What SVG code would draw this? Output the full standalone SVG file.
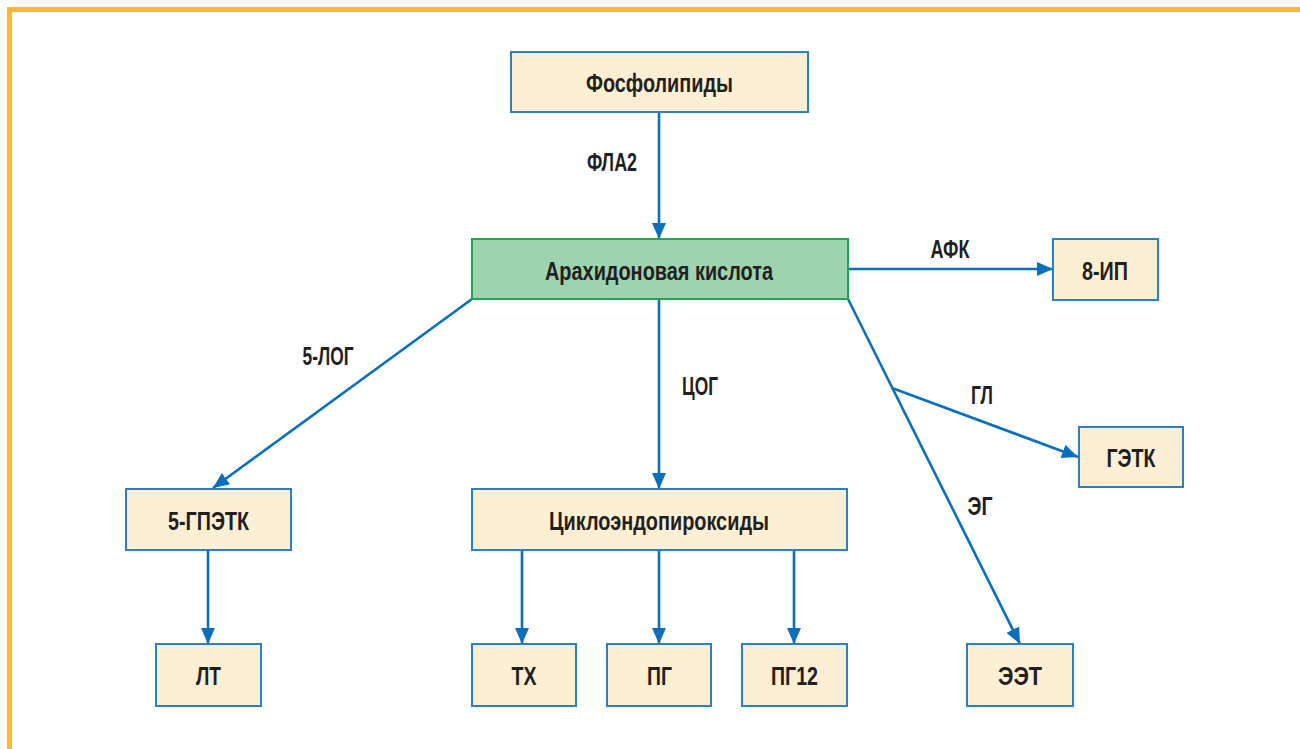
<svg xmlns="http://www.w3.org/2000/svg" width="1300" height="749" viewBox="0 0 1300 749">
<defs>
<style>
.box{fill:#fdefd4;stroke:#2b7fc3;stroke-width:2}
.main{fill:#9dd3ae;stroke:#27a34f;stroke-width:2}
.t{font-family:"Liberation Sans",Arial,sans-serif;font-weight:bold;font-size:25.5px;fill:#231f20;text-anchor:middle}
.c{stroke:#0b6fbd;stroke-width:2.6;fill:none;marker-end:url(#ah)}
</style>
<marker id="ah" markerUnits="userSpaceOnUse" markerWidth="16" markerHeight="14" refX="16" refY="7" orient="auto">
<path d="M0,0 L16,7 L0,14 Z" fill="#0b6fbd"/>
</marker>
</defs>
<rect width="1300" height="749" fill="#ffffff"/>
<path d="M9.5,749 V9.5 H1300" fill="none" stroke="#fdb92b" stroke-width="5"/>

<g id="connectors">
<line class="c" x1="659" y1="112" x2="659" y2="239"/>
<line class="c" x1="848" y1="269" x2="1053" y2="269"/>
<line class="c" x1="472" y1="299" x2="213" y2="488"/>
<line class="c" x1="659" y1="299" x2="659" y2="489"/>
<line class="c" x1="848" y1="299" x2="1020" y2="644"/>
<line class="c" x1="892" y1="388" x2="1078" y2="457"/>
<line class="c" x1="208" y1="550" x2="208" y2="644"/>
<line class="c" x1="522" y1="550" x2="522" y2="644"/>
<line class="c" x1="659" y1="550" x2="659" y2="644"/>
<line class="c" x1="794" y1="550" x2="794" y2="644"/>
<text class="t" x="612" y="171" textLength="50" lengthAdjust="spacingAndGlyphs">ФЛА2</text>
<text class="t" x="950" y="258" textLength="39" lengthAdjust="spacingAndGlyphs">АФК</text>
<text class="t" x="328" y="365" textLength="51" lengthAdjust="spacingAndGlyphs">5-ЛОГ</text>
<text class="t" x="700" y="395" textLength="36" lengthAdjust="spacingAndGlyphs">ЦОГ</text>
<text class="t" x="982" y="404" textLength="22" lengthAdjust="spacingAndGlyphs">ГЛ</text>
<text class="t" x="980" y="515" textLength="25" lengthAdjust="spacingAndGlyphs">ЭГ</text>
</g>

<g id="n-phospholipids"><rect class="box" x="511" y="52" width="297" height="60"/><text class="t" x="659.5" y="92" textLength="147" lengthAdjust="spacingAndGlyphs">Фосфолипиды</text></g>
<g id="n-arachidonic"><rect class="main" x="472" y="239" width="376" height="60"/><text class="t" x="659" y="280" textLength="228" lengthAdjust="spacingAndGlyphs">Арахидоновая кислота</text></g>
<g id="n-8ip"><rect class="box" x="1053" y="239" width="105" height="61"/><text class="t" x="1105" y="280" textLength="46" lengthAdjust="spacingAndGlyphs">8-ИП</text></g>
<g id="n-getk"><rect class="box" x="1079" y="427" width="104" height="60"/><text class="t" x="1131" y="467" textLength="49" lengthAdjust="spacingAndGlyphs">ГЭТК</text></g>
<g id="n-5gpetk"><rect class="box" x="126" y="489" width="165" height="61"/><text class="t" x="208.5" y="530" textLength="81" lengthAdjust="spacingAndGlyphs">5-ГПЭТК</text></g>
<g id="n-cyclo"><rect class="box" x="472" y="489" width="375" height="61"/><text class="t" x="659" y="530" textLength="220" lengthAdjust="spacingAndGlyphs">Циклоэндопироксиды</text></g>
<g id="n-lt"><rect class="box" x="156" y="644" width="105" height="62"/><text class="t" x="208.5" y="685" textLength="25" lengthAdjust="spacingAndGlyphs">ЛТ</text></g>
<g id="n-tx"><rect class="box" x="472" y="644" width="104" height="62"/><text class="t" x="524" y="685" textLength="25" lengthAdjust="spacingAndGlyphs">ТХ</text></g>
<g id="n-pg"><rect class="box" x="607" y="644" width="104" height="62"/><text class="t" x="659.5" y="685" textLength="25" lengthAdjust="spacingAndGlyphs">ПГ</text></g>
<g id="n-pg12"><rect class="box" x="742" y="644" width="105" height="62"/><text class="t" x="794.5" y="685" textLength="47" lengthAdjust="spacingAndGlyphs">ПГ12</text></g>
<g id="n-eet"><rect class="box" x="967" y="644" width="106" height="62"/><text class="t" x="1020" y="685" textLength="44" lengthAdjust="spacingAndGlyphs">ЭЭТ</text></g>
</svg>
